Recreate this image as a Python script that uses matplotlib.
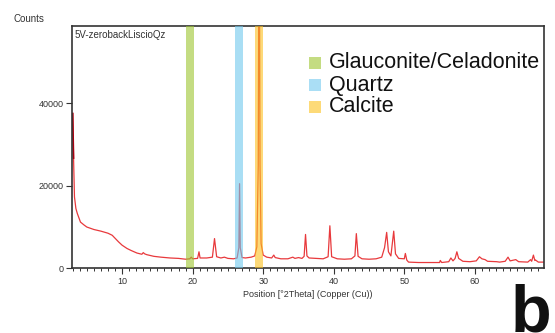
import matplotlib
matplotlib.use("Agg")
import matplotlib.pyplot as plt
from matplotlib.patches import Rectangle
from matplotlib.ticker import MultipleLocator

plt.rcParams["font.family"] = ["Liberation Sans", "DejaVu Sans"]

# diffractogram (2theta, counts)
two_theta = [3.00, 3.05, 3.12, 3.25, 3.45, 3.65, 4.1, 4.6, 5.0, 6.0, 7.0, 7.4, 8.0,
             8.6, 9.0, 9.5, 10.0, 10.7, 11.3, 12.1, 12.8, 13.0, 13.2, 13.5, 14.5,
             15.5, 16.8, 18.0, 19.0, 19.6, 19.8, 20.0, 20.7, 20.9, 21.05, 22.0,
             22.8, 23.1, 23.4, 24.0, 24.5, 25.0, 25.8, 26.3, 26.55, 26.65, 26.75,
             27.0, 27.5, 28.3, 28.8, 29.1, 29.3, 29.42, 29.55, 29.7, 30.0, 30.5,
             31.2, 31.5, 31.7, 32.5, 33.5, 34.2, 34.5, 35.0, 35.5, 35.8, 36.0, 36.2,
             36.5, 37.5, 38.5, 39.2, 39.45, 39.7, 40.5, 41.5, 42.5, 43.0, 43.2,
             43.45, 44.0, 45.0, 46.0, 46.8, 47.2, 47.5, 47.75, 48.1, 48.5, 48.75,
             49.2, 50.0, 50.15, 50.35, 50.6, 52.0, 54.0, 55.0, 55.1, 55.3, 56.3,
             56.6, 56.9, 57.2, 57.45, 57.7, 58.3, 59.3, 60.2, 60.65, 61.0, 61.45,
             61.8, 63.1, 63.5, 64.3, 64.7, 65.0, 65.8, 66.2, 67.5, 67.9, 68.05,
             68.3, 68.5, 68.6, 69.0, 69.8]
counts = [37500, 33000, 26700, 17300, 14500, 13300, 11200, 10500, 10000, 9400, 9000,
          8800, 8500, 8000, 7300, 6400, 5600, 4800, 4300, 3700, 3400, 3800, 3500,
          3300, 2900, 2700, 2500, 2400, 2200, 2300, 2700, 2300, 2400, 4000, 2500,
          2500, 2700, 7200, 2800, 2500, 2700, 2400, 2300, 2500, 5000, 20500, 5000,
          2600, 2500, 2700, 3000, 5200, 25000, 95000, 25000, 6000, 3200, 2700,
          2500, 3200, 2600, 2300, 2300, 2700, 2400, 2600, 2400, 2900, 8200, 3000,
          2500, 2400, 2300, 2800, 10300, 2800, 2300, 2200, 2300, 3000, 8400,
          2900, 2300, 2200, 2300, 2700, 5000, 8700, 4000, 3000, 9000, 3500,
          2400, 2300, 3600, 2000, 1500, 1400, 1400, 1400, 1900, 1400, 1600,
          2500, 1800, 2400, 4000, 2400, 1700, 1600, 1800, 2800, 2300, 2100,
          1700, 1600, 1500, 1700, 2700, 1800, 2100, 1600, 1500, 2100, 1700,
          3200, 1900, 2000, 1500, 1500]

phases = ["Glauconite/Celadonite", "Quartz", "Calcite"]
band_lo = [19.05, 26.05, 28.9]
band_hi = [20.2, 27.1, 29.95]
band_colors = ["#9dc52f", "#71c8ee", "#fcc11e"]
key_colors = ["#c4dc82", "#aadef5", "#fdda78"]

W, H = 555, 333
fig = plt.figure(figsize=(W / 100, H / 100), dpi=100)
ax = fig.add_axes([72 / W, 1 - 268.3 / H, 472 / W, 242.3 / H])

ax.plot(two_theta, counts, color="#e8393c", lw=0.9, zorder=2)
ax.plot(two_theta[:3], counts[:3], color="#a80010", lw=1.2, zorder=2)
for lo, hi, c in zip(band_lo, band_hi, band_colors):
    ax.axvspan(lo, hi, color=c, alpha=0.6, lw=0, zorder=3)

ax.set_xlim(2.9, 69.8)
ax.set_ylim(0, 58700)
ax.set_yticks([0, 20000, 40000])
ax.xaxis.set_major_locator(MultipleLocator(10))
ax.xaxis.set_minor_locator(MultipleLocator(1))
ax.tick_params(axis="both", which="major", length=4, width=0.8, color="#333333",
               labelsize=6.5, labelcolor="#333333", pad=2)
ax.tick_params(axis="x", which="minor", length=2, width=0.7, color="#333333")
for s in ax.spines.values():
    s.set_color("#333333")
    s.set_linewidth(1.2)

ax.set_xlabel("Position [°2Theta] (Copper (Cu))", fontsize=6.5, color="#333333", labelpad=3)
ax.text(0.005, 0.985, "5V-zerobackLiscioQz", transform=ax.transAxes, fontsize=7,
        color="#333333", va="top", ha="left")
fig.text(14 / W, 1 - 19 / H, "Counts", fontsize=7, color="#333333", va="center")

# manual key in the top right
for i, (name, c) in enumerate(zip(phases, key_colors)):
    yc = 63 + 22 * i
    fig.patches.append(Rectangle((309 / W, 1 - (yc + 6) / H), 12 / W, 12 / H,
                                 transform=fig.transFigure, color=c, lw=0))
    fig.text(329 / W, 1 - yc / H, name, fontsize=15.5, color="#111111", va="center")

fig.text(511 / W, 1.5 / H, "b", fontsize=48, fontweight="bold", color="#111111",
         va="baseline", ha="left")

fig.savefig("out.png", dpi=100)
